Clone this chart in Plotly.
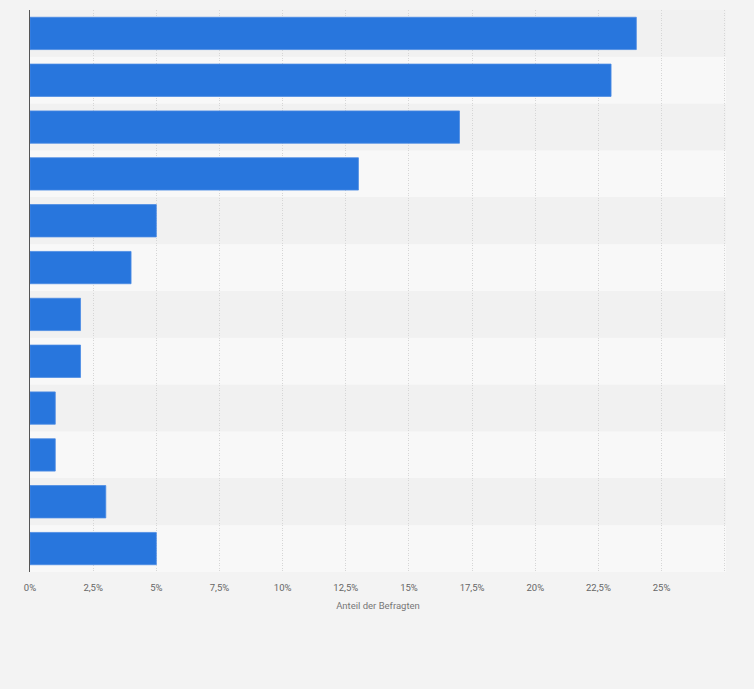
import plotly.graph_objects as go

categories = [f"Kategorie {i}" for i in range(1, 13)]
values = [24, 23, 17, 13, 5, 4, 2, 2, 1, 1, 3, 5]
tick_values = [0, 2.5, 5, 7.5, 10, 12.5, 15, 17.5, 20, 22.5, 25, 27.5]
tick_labels = ["0%", "2,5%", "5%", "7,5%", "10%", "12,5%", "15%", "17,5%", "20%", "22,5%", "25%", ""]
x_title = "Anteil der Befragten"

fig = go.Figure()
fig.add_trace(go.Bar(
    y=categories, x=values, orientation="h",
    marker=dict(color="#2876dd", line=dict(color="#4a8ae3", width=0.8)),
    hoverinfo="x",
))

shapes = []
for i, c in enumerate(categories):
    shapes.append(dict(
        type="rect", xref="paper", yref="y", layer="below",
        x0=0, x1=1, y0=i - 0.5, y1=i + 0.5,
        fillcolor="#f1f1f1" if i % 2 == 0 else "#f8f8f8", line=dict(width=0),
    ))

fig.update_layout(
    width=754, height=689,
    margin=dict(l=30, r=28, t=10, b=117),
    paper_bgcolor="#f3f3f3", plot_bgcolor="#f3f3f3",
    bargap=0.31, showlegend=False,
    shapes=shapes,
    font=dict(family="Roboto, Arial, sans-serif", color="#666666", size=10),
    xaxis=dict(
        range=[0, 27.55], tickmode="array", tickvals=tick_values, ticktext=tick_labels,
        showgrid=True, gridcolor="#d6d6d6", griddash="1px,1.5px", gridwidth=1,
        zeroline=False, showline=False, layer="below traces",
        ticks="", ticklabelstandoff=8, tickfont=dict(size=9.5, color="#666666"),
        title=dict(text=x_title, font=dict(size=9.5, color="#777777"), standoff=10),
        fixedrange=True,
    ),
    yaxis=dict(
        categoryorder="array", categoryarray=categories, autorange="reversed",
        showticklabels=False, showgrid=False, zeroline=False,
        showline=True, linecolor="#555555", linewidth=1.2, ticks="",
        fixedrange=True,
    ),
)

fig.write_html(
    "out.html",
    config={"displayModeBar": False},
    post_script="document.body.style.margin='0';document.body.style.background='#f3f3f3';",
)
